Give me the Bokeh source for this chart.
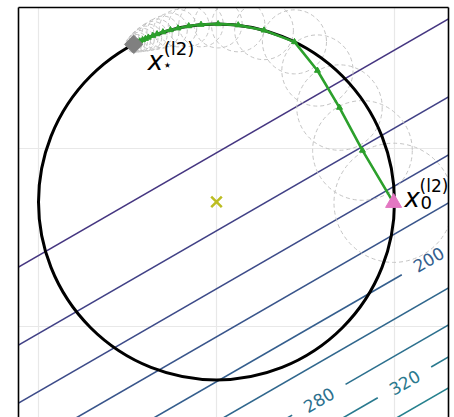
import numpy as np
from bokeh.plotting import figure
from bokeh.models import Range1d, LinearAxis, FixedTicker, Grid
from bokeh.core.properties import value
from bokeh.embed import file_html
from bokeh.resources import INLINE
from bokeh.palettes import Viridis256

# ---------------- data ----------------
# constraint circle
circle_x = [0.0]
circle_y = [-0.3]
circle_r = [1.0]

# grid positions
x_grid = [-1.0, 0.0, 1.0]
y_grid = [-1.0, 0.0]

# contour lines of the objective: level, slope and y-intercept (at x = 0)
levels = [40, 80, 120, 160, 200, 240, 280, 320, 360]
contour_slope = 0.577
contour_intercepts = [-0.024, -0.462, -0.788, -1.058, -1.310, -1.535, -1.743, -1.923, -2.097]

# inline contour labels: level and x position of the label centre
label_levels = [200, 280, 320]
label_text = ["200", "280", "320"]
label_x = [1.191, 0.575, 1.056]

# iterates of the method (x0 ... x*)
iter_x = [0.995, 0.820, 0.691, 0.567, 0.438, 0.267, 0.122, 0.009, -0.087, -0.156,
          -0.216, -0.259, -0.301, -0.334, -0.358, -0.383, -0.399, -0.415, -0.431,
          -0.443, -0.454, -0.465]
iter_y = [-0.305, -0.011, 0.230, 0.438, 0.599, 0.664, 0.693, 0.700, 0.696, 0.688,
          0.676, 0.666, 0.654, 0.643, 0.634, 0.624, 0.617, 0.610, 0.603,
          0.597, 0.591, 0.585]
# radius of the dashed step circle around each iterate
step_r = [0.335, 0.28, 0.24, 0.20, 0.18, 0.165, 0.15, 0.135, 0.125, 0.115,
          0.105, 0.095, 0.09, 0.085, 0.08, 0.075, 0.07, 0.065, 0.06,
          0.055, 0.05, 0.045]

# ---------------- figure ----------------
x_start, x_end = -1.1124, 1.3034
y_start, y_end = -1.511, 0.792

p = figure(width=454, height=417, output_backend="svg", toolbar_location=None,
           x_range=Range1d(x_start, x_end), y_range=Range1d(y_start, y_end),
           x_axis_type=None, y_axis_type=None, title=None,
           min_border_left=18, min_border_top=7, min_border_right=6, min_border_bottom=0)
p.outline_line_color = None
p.background_fill_color = "white"
p.border_fill_color = "white"

for dim, ticks in [(0, x_grid), (1, y_grid)]:
    p.add_layout(Grid(dimension=dim, ticker=FixedTicker(ticks=ticks),
                      grid_line_color="#e8e8e8", grid_line_width=1.2))

for loc in ["left", "above", "right"]:
    ax = LinearAxis(ticker=FixedTicker(ticks=[]), major_tick_in=0, major_tick_out=0,
                    minor_tick_in=0, minor_tick_out=0, major_label_standoff=0,
                    major_label_text_font_size="0px", axis_line_color="black",
                    axis_line_width=1.6)
    p.add_layout(ax, loc)

vmin, vmax = -140.0, 1000.0
def level_color(L):
    t = (L - vmin) / (vmax - vmin)
    return Viridis256[int(round(t * 255))]

gap = 0.15
xs, ys, cols = [], [], []
for L, b in zip(levels, contour_intercepts):
    c = level_color(L)
    pieces = [(x_start - 0.2, x_end + 0.2)]
    if L in label_levels:
        lx = label_x[label_levels.index(L)]
        pieces = [(x_start - 0.2, lx - gap), (lx + gap, x_end + 0.2)]
    for a, e in pieces:
        xs.append([a, e])
        ys.append([contour_slope * a + b, contour_slope * e + b])
        cols.append(c)
p.multi_line(xs=xs, ys=ys, line_color=cols, line_width=1.6)

lab_y = [contour_slope * lx + contour_intercepts[levels.index(L)] for L, lx in zip(label_levels, label_x)]
lab_c = [level_color(L) for L in label_levels]
p.text(x=label_x, y=lab_y, text=label_text, text_color=lab_c, angle=np.deg2rad(30),
       text_align="center", text_baseline="middle", text_font=value("DejaVu Sans"),
       text_font_size="17px")

# dashed step circles
p.circle(x=iter_x, y=iter_y, radius=step_r, fill_color=None, line_color="#c4c4c4",
         line_dash="4 3", line_width=1)

# constraint circle
p.circle(x=circle_x, y=circle_y, radius=circle_r, fill_color=None, line_color="black",
         line_width=3)

# path
p.line(iter_x, iter_y, line_color="#2ca02c", line_width=2.6)
p.scatter(iter_x[1:-1], iter_y[1:-1], marker="triangle", size=6, color="#2ca02c")

# centre, start, solution
p.scatter(circle_x, circle_y, marker="x", size=15, line_color="#bcbd22", line_width=2.5)
p.scatter(iter_x[:1], iter_y[:1], marker="triangle", size=16, color="#e377c2")
p.scatter(iter_x[-1:], iter_y[-1:], marker="square", angle=np.pi / 4, size=13, color="#808080")

# point labels
f = value("DejaVu Sans")
x0x, x0y = iter_x[:1], iter_y[:1]
p.text(x=x0x, y=x0y, text=["x"], x_offset=11, y_offset=-5, text_font=f, text_font_style="italic",
       text_font_size="26px", text_baseline="alphabetic", text_align="left", text_color="black")
p.text(x=x0x, y=x0y, text=["0"], x_offset=27, y_offset=0, text_font=f,
       text_font_size="18px", text_baseline="alphabetic", text_align="left", text_color="black")
p.text(x=x0x, y=x0y, text=["(l2)"], x_offset=26, y_offset=-17, text_font=f,
       text_font_size="17px", text_baseline="alphabetic", text_align="left", text_color="black")

xsx, xsy = iter_x[-1:], iter_y[-1:]
p.text(x=xsx, y=xsy, text=["x"], x_offset=14, y_offset=17, text_font=f, text_font_style="italic",
       text_font_size="26px", text_baseline="alphabetic", text_align="left", text_color="black")
p.text(x=xsx, y=xsy, text=["\u22c6"], x_offset=29, y_offset=21, text_font=f,
       text_font_size="15px", text_baseline="middle", text_align="left", text_color="black")
p.text(x=xsx, y=xsy, text=["(l2)"], x_offset=30, y_offset=4, text_font=f,
       text_font_size="18px", text_baseline="alphabetic", text_align="left", text_color="black")

open("out.html", "w").write(file_html(p, INLINE))
